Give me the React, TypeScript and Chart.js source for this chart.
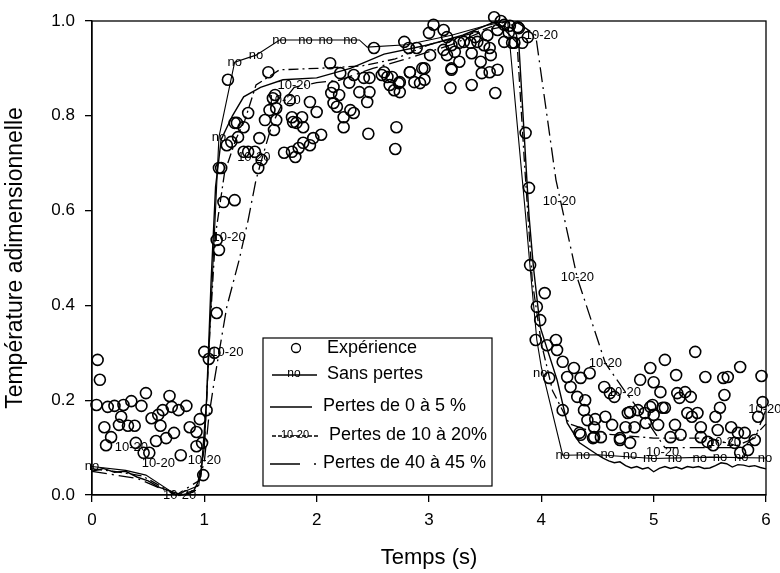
import React, { useEffect, useRef } from "react";
import { Chart, registerables } from "chart.js";
Chart.register(...registerables);

// ---------- data ----------
const xTicks = [0, 1, 2, 3, 4, 5, 6];
const yTicks = [0, 0.2, 0.4, 0.6, 0.8, 1.0];

const legendLabels = [
  "Expérience",
  "Sans pertes",
  "Pertes de 0 à 5 %",
  "Pertes de 10 à 20%",
  "Pertes de 40 à 45 %",
];

// Expérience (open circles)
const expX = [
  0.05, 0.07, 0.04, 0.14, 0.2, 0.28, 0.35, 0.44, 0.48, 0.11, 0.17, 0.125, 0.26, 0.24, 0.32, 0.38, 0.39, 0.46, 0.51, 0.57,
  0.53, 0.59, 0.63, 0.69, 0.71, 0.77, 0.84, 0.61, 0.66, 0.73, 0.79, 0.87, 0.93, 0.96, 0.93, 0.98, 1.02, 1.0, 1.04, 1.09,
  0.99,
  1.21, 1.57, 1.13, 1.17, 1.27, 1.11, 1.13, 1.11, 1.2, 1.24, 1.3, 1.27, 1.35, 1.39, 1.35, 1.39, 1.45, 1.51, 1.48, 1.49,
  1.54, 1.58, 1.61, 1.64, 1.64, 1.76, 1.78, 1.82, 1.88, 1.87, 1.94, 2.0, 1.78, 1.84, 1.88, 1.94, 1.97, 2.04, 1.71, 2.12,
  2.15, 2.2, 2.15, 2.24, 2.3, 2.24, 1.63, 1.62, 1.79, 2.13, 2.18, 2.33, 1.81, 2.46, 2.71, 2.7, 2.38, 2.42, 2.47, 2.45,
  2.58, 2.63, 2.65, 2.69, 2.74, 2.74, 2.83, 2.87, 2.94, 2.96, 2.92, 3.19, 3.2, 1.15, 1.29, 2.21, 2.29, 2.33, 2.47, 2.6,
  3.01,
  3.04, 3.0, 3.13, 3.16, 2.78, 2.51, 2.82, 2.89, 3.13, 3.2, 3.27, 3.31, 3.37, 3.43, 3.49, 3.54, 3.41, 3.52, 3.61, 3.67,
  3.71, 3.67, 3.76, 3.83, 3.8, 3.88, 3.16, 3.23, 3.27, 3.38, 3.46, 3.55, 3.2, 2.96, 2.83, 3.47, 3.54, 3.61, 2.67, 2.73,
  3.38, 3.59, 3.86, 3.89, 3.58, 3.64, 3.72, 3.79, 3.74,
  3.9, 4.03, 3.96, 3.99, 3.95, 4.05, 4.13, 4.14, 4.07, 4.19, 4.29, 4.23, 4.26, 4.35, 4.43, 4.32, 4.39, 4.38, 4.19, 4.41,
  4.48, 4.47, 4.53, 4.57, 4.63, 4.35, 4.46, 4.7, 4.79, 4.75, 4.83, 4.77, 4.56, 4.61, 4.65, 4.88, 4.97, 5.1, 5.0, 5.06,
  4.79, 4.86, 4.92, 4.97, 5.0, 5.04, 5.1,
  5.37, 5.2, 5.46, 5.62, 5.66, 5.77, 5.96, 5.21, 5.28, 5.33, 5.23, 5.63, 5.97, 5.59, 4.99, 5.08, 5.3, 5.39, 5.34, 5.55,
  5.93, 4.93, 5.19, 5.42, 5.57, 5.69, 5.75, 5.81, 5.15, 5.24, 5.9, 5.42, 5.48, 5.53, 5.72, 5.84, 5.77, 4.34, 4.47, 4.7,
];
const expY = [
  0.285, 0.243, 0.19, 0.186, 0.188, 0.19, 0.198, 0.188, 0.215, 0.143, 0.122, 0.105, 0.165, 0.148, 0.146, 0.146, 0.11, 0.089, 0.089, 0.114,
  0.162, 0.169, 0.179, 0.209, 0.186, 0.179, 0.188, 0.146, 0.12, 0.131, 0.084, 0.143, 0.133, 0.16, 0.103, 0.11, 0.179, 0.302, 0.287, 0.3,
  0.042,
  0.876, 0.892, 0.69, 0.618, 0.622, 0.538, 0.517, 0.384, 0.738, 0.745, 0.755, 0.785, 0.776, 0.806, 0.724, 0.724, 0.724, 0.707, 0.69, 0.753,
  0.791, 0.812, 0.837, 0.816, 0.791, 0.833, 0.797, 0.785, 0.776, 0.797, 0.829, 0.808, 0.724, 0.732, 0.743, 0.738, 0.753, 0.76, 0.722, 0.911,
  0.861, 0.844, 0.827, 0.797, 0.812, 0.776, 0.844, 0.77, 0.787, 0.848, 0.819, 0.806, 0.713, 0.762, 0.776, 0.73, 0.85, 0.88, 0.85, 0.829,
  0.886, 0.882, 0.865, 0.854, 0.871, 0.85, 0.892, 0.871, 0.9, 0.876, 0.869, 0.859, 0.897, 0.69, 0.785, 0.89, 0.87, 0.886, 0.88, 0.892,
  0.928,
  0.992, 0.975, 0.981, 0.966, 0.956, 0.943, 0.943, 0.943, 0.939, 0.949, 0.954, 0.956, 0.954, 0.956, 0.949, 0.943, 0.966, 0.97, 0.981, 0.992,
  0.975, 0.956, 0.954, 0.954, 0.985, 0.966, 0.928, 0.935, 0.914, 0.932, 0.914, 0.928, 0.9, 0.9, 0.892, 0.89, 0.892, 0.897, 0.882, 0.869,
  0.865, 0.848, 0.764, 0.648, 1.008, 1.0, 0.99, 0.987, 0.954,
  0.485, 0.426, 0.397, 0.369, 0.327, 0.316, 0.327, 0.306, 0.247, 0.281, 0.268, 0.249, 0.228, 0.247, 0.257, 0.207, 0.2, 0.179, 0.179, 0.158,
  0.16, 0.143, 0.122, 0.165, 0.148, 0.127, 0.12, 0.12, 0.11, 0.143, 0.143, 0.173, 0.228, 0.215, 0.207, 0.243, 0.268, 0.285, 0.238, 0.217,
  0.175, 0.179, 0.173, 0.186, 0.169, 0.148, 0.184,
  0.302, 0.253, 0.249, 0.247, 0.249, 0.27, 0.251, 0.215, 0.217, 0.207, 0.205, 0.211, 0.196, 0.184, 0.19, 0.184, 0.173, 0.173, 0.165, 0.165,
  0.165, 0.152, 0.148, 0.143, 0.137, 0.143, 0.131, 0.131, 0.122, 0.127, 0.116, 0.122, 0.112, 0.105, 0.11, 0.095, 0.089, 0.131, 0.122, 0.116,
];

// Sans pertes
const sansX = [0, 0.3, 0.48, 0.75, 0.95, 1.0, 1.05, 1.13, 1.27, 1.46, 1.67, 2.38, 2.45, 2.8, 3.2, 3.5, 3.7, 3.72, 3.86, 3.9, 3.96, 4.0, 4.19, 4.5, 5.0, 5.5, 6.0];
const sansY = [0.06, 0.052, 0.042, 0.0, 0.02, 0.1, 0.35, 0.755, 0.913, 0.928, 0.96, 0.96, 0.945, 0.95, 0.97, 0.99, 1.0, 0.95, 0.59, 0.48, 0.327, 0.27, 0.084, 0.085, 0.077, 0.08, 0.078];

// Pertes de 0 à 5 %
const p05X = [0, 0.1, 0.2, 0.3, 0.4, 0.5, 0.6, 0.7, 0.8, 0.9, 0.97, 1.02, 1.06, 1.1, 1.15, 1.25, 1.35, 1.5, 1.7, 2.0, 2.3, 2.6, 3.0, 3.3, 3.6, 3.8, 3.89, 3.93, 3.99, 4.14, 4.23, 4.34,
  4.5, 4.55, 4.6, 4.65, 4.7, 4.75, 4.8, 4.85, 4.9, 4.95, 5.0, 5.05, 5.1, 5.15, 5.2, 5.25, 5.3, 5.35, 5.4, 5.45, 5.5, 5.55, 5.6, 5.65, 5.7, 5.75, 5.8, 5.85, 5.9, 5.95, 6.0];
const p05Y = [0.05, 0.056, 0.048, 0.05, 0.038, 0.03, 0.016, 0.008, 0.0, 0.006, 0.04, 0.2, 0.45, 0.65, 0.75, 0.8, 0.84, 0.86, 0.876, 0.88, 0.9, 0.93, 0.95, 0.97, 1.0, 0.95, 0.59, 0.48, 0.354, 0.243, 0.152, 0.11,
  0.085, 0.078, 0.072, 0.068, 0.07, 0.062, 0.057, 0.06, 0.055, 0.058, 0.049, 0.056, 0.06, 0.056, 0.059, 0.055, 0.06, 0.058, 0.06, 0.056, 0.057, 0.062, 0.068, 0.066, 0.059, 0.064, 0.063, 0.06, 0.062, 0.058, 0.055];

// Pertes de 10 à 20 %
const p1020X = [0, 0.4, 0.75, 0.95, 1.0, 1.04, 1.09, 1.2, 1.31, 1.39, 1.46, 1.51, 1.6, 1.71, 1.8, 2.0, 2.2, 2.5, 2.8, 3.2, 3.5, 3.8, 3.95, 4.13, 4.32, 4.57, 4.74, 4.9, 5.1, 5.4, 5.7, 5.9, 6.0];
const p1020Y = [0.05, 0.035, 0.0, 0.03, 0.07, 0.165, 0.243, 0.397, 0.496, 0.58, 0.665, 0.707, 0.78, 0.833, 0.86, 0.87, 0.875, 0.9, 0.92, 0.95, 0.98, 0.995, 0.97, 0.665, 0.458, 0.278, 0.22, 0.17, 0.1, 0.1, 0.1, 0.12, 0.18];

// Pertes de 40 à 45 %
const p4045X = [0, 0.2, 0.45, 0.75, 0.93, 1.0, 1.05, 1.1, 1.18, 1.28, 1.36, 1.46, 1.67, 2.0, 2.4, 2.7, 3.0, 3.4, 3.7, 3.78, 3.85, 3.92, 4.0, 4.1, 4.25, 4.5, 5.0, 5.5, 5.8, 6.0];
const p4045Y = [0.055, 0.05, 0.04, 0.0, 0.01, 0.1, 0.35, 0.55, 0.68, 0.75, 0.79, 0.865, 0.897, 0.9, 0.905, 0.92, 0.95, 0.975, 1.0, 0.97, 0.7, 0.45, 0.32, 0.22, 0.15, 0.13, 0.12, 0.12, 0.1, 0.15];

// curve markers (text labels on the curves)
const noMarkX = [0, 1.13, 1.27, 1.46, 1.67, 1.9, 2.08, 2.3, 3.99, 4.19, 4.37, 4.59, 4.79, 4.97, 5.19, 5.41, 5.59, 5.78, 5.99];
const noMarkY = [0.06, 0.755, 0.913, 0.928, 0.96, 0.96, 0.96, 0.96, 0.257, 0.084, 0.084, 0.085, 0.083, 0.078, 0.077, 0.078, 0.08, 0.079, 0.078];
const m1020X = [0.35, 0.59, 1.0, 0.78, 1.2, 1.22, 1.44, 1.71, 1.8, 4.0, 4.16, 4.32, 4.57, 4.74, 5.08, 5.63, 5.99];
const m1020Y = [0.1, 0.067, 0.074, 0.0, 0.3, 0.544, 0.713, 0.833, 0.865, 0.97, 0.62, 0.458, 0.278, 0.217, 0.09, 0.11, 0.18];

const FONT = "'Liberation Sans', Arial, Helvetica, sans-serif";

const toPts = (xs: number[], ys: number[]) => xs.map((x, i) => ({ x, y: ys[i] }));

const decorPlugin = {
  id: "decor",
  afterDatasetsDraw(chart: any) {
    const { ctx, chartArea, scales } = chart;
    const xs = scales.x;
    const ys = scales.y;
    ctx.save();
    // frame
    ctx.strokeStyle = "#000";
    ctx.lineWidth = 1.3;
    ctx.strokeRect(chartArea.left, chartArea.top, chartArea.right - chartArea.left, chartArea.bottom - chartArea.top);

    // curve text markers
    ctx.fillStyle = "#000";
    ctx.textAlign = "center";
    ctx.textBaseline = "middle";
    ctx.font = `13px ${FONT}`;
    noMarkX.forEach((x, i) => {
      ctx.fillText("no", xs.getPixelForValue(x), ys.getPixelForValue(noMarkY[i]));
    });
    m1020X.forEach((x, i) => {
      ctx.fillText("10-20", xs.getPixelForValue(x), ys.getPixelForValue(m1020Y[i]));
    });

    // legend box
    const L = 263, T = 338, R = 492, B = 486;
    ctx.fillStyle = "#fff";
    ctx.fillRect(L, T, R - L, B - T);
    ctx.strokeStyle = "#000";
    ctx.lineWidth = 1.2;
    ctx.strokeRect(L, T, R - L, B - T);

    const rows = [348, 374, 406, 435, 463];
    const textX = [327, 327, 323, 329, 323];
    ctx.fillStyle = "#000";
    ctx.textAlign = "left";
    ctx.font = `18px ${FONT}`;
    legendLabels.forEach((t, i) => ctx.fillText(t, textX[i], rows[i]));

    // samples
    ctx.lineWidth = 1.3;
    ctx.beginPath();
    ctx.arc(296, rows[0], 4.5, 0, Math.PI * 2);
    ctx.stroke();
    ctx.beginPath();
    ctx.moveTo(272, rows[1] + 1);
    ctx.lineTo(317, rows[1] + 1);
    ctx.stroke();
    ctx.font = `12px ${FONT}`;
    ctx.textAlign = "center";
    ctx.fillText("no", 294, rows[1]);
    ctx.beginPath();
    ctx.moveTo(270, rows[2] + 1);
    ctx.lineTo(312, rows[2] + 1);
    ctx.stroke();
    ctx.setLineDash([4, 2]);
    ctx.beginPath();
    ctx.moveTo(272, rows[3] + 1);
    ctx.lineTo(318, rows[3] + 1);
    ctx.stroke();
    ctx.setLineDash([]);
    ctx.font = `11px ${FONT}`;
    ctx.fillText("10-20", 295, rows[3]);
    ctx.beginPath();
    ctx.moveTo(270, rows[4] + 1);
    ctx.lineTo(300, rows[4] + 1);
    ctx.moveTo(314, rows[4] + 1);
    ctx.lineTo(316, rows[4] + 1);
    ctx.stroke();
    ctx.restore();
  },
};

export default function App() {
  const ref = useRef<HTMLCanvasElement | null>(null);
  useEffect(() => {
    if (!ref.current) return;
    const lineDs = (label: string, xs: number[], ys: number[], width: number, dash: number[]) => ({
      type: "scatter" as const,
      label,
      data: toPts(xs, ys),
      showLine: true,
      borderColor: "#000",
      backgroundColor: "#000",
      borderWidth: width,
      borderDash: dash,
      pointRadius: 0,
      tension: 0,
      clip: false,
    });
    const chart = new Chart(ref.current, {
      type: "scatter",
      data: {
        datasets: [
          lineDs(legendLabels[1], sansX, sansY, 1.1, []),
          lineDs(legendLabels[2], p05X, p05Y, 1.4, []),
          lineDs(legendLabels[3], p1020X, p1020Y, 1.3, [15, 5, 2, 5]),
          lineDs(legendLabels[4], p4045X, p4045Y, 1.3, [10, 4, 2, 4]),
          {
            type: "scatter",
            label: legendLabels[0],
            data: toPts(expX, expY),
            pointStyle: "circle",
            pointRadius: 5.5,
            pointBorderWidth: 1.6,
            borderColor: "#000",
            backgroundColor: "rgba(0,0,0,0)",
            showLine: false,
            clip: false,
          },
        ],
      },
      options: {
        responsive: false,
        animation: false,
        events: [],
        layout: { padding: { top: 21, right: 14, left: 0, bottom: 0 } },
        plugins: { legend: { display: false }, tooltip: { enabled: false } },
        scales: {
          x: {
            type: "linear",
            min: 0,
            max: 6,
            afterBuildTicks: (s: any) => { s.ticks = xTicks.map((v) => ({ value: v })); },
            afterFit: (s: any) => { s.height = 78; },
            ticks: { color: "#000", font: { family: FONT, size: 17 }, padding: 8, callback: (v: any) => String(v) },
            grid: { drawOnChartArea: false, drawTicks: true, tickLength: 7, color: "#000", lineWidth: 1.3 },
            border: { display: true, color: "#000", width: 1.3 },
            title: { display: true, text: "Temps (s)", color: "#000", font: { family: FONT, size: 22 }, padding: { top: 2, bottom: 2 } },
          },
          y: {
            type: "linear",
            min: 0,
            max: 1,
            afterBuildTicks: (s: any) => { s.ticks = yTicks.map((v) => ({ value: v })); },
            afterFit: (s: any) => { s.width = 92; },
            ticks: { color: "#000", font: { family: FONT, size: 17 }, padding: 10, callback: (v: any) => Number(v).toFixed(1) },
            grid: { drawOnChartArea: false, drawTicks: true, tickLength: 7, color: "#000", lineWidth: 1.3 },
            border: { display: true, color: "#000", width: 1.3 },
            title: { display: true, text: "Température adimensionnelle", color: "#000", font: { family: FONT, size: 23 }, padding: { top: 2, bottom: 2 } },
          },
        },
      },
      plugins: [decorPlugin],
    } as any);
    return () => chart.destroy();
  }, []);
  return (
    <div style={{ position: "fixed", left: 0, top: 0, width: 780, height: 573, background: "#fff" }}>
      <canvas ref={ref} width={780} height={573} style={{ display: "block" }} />
    </div>
  );
}
